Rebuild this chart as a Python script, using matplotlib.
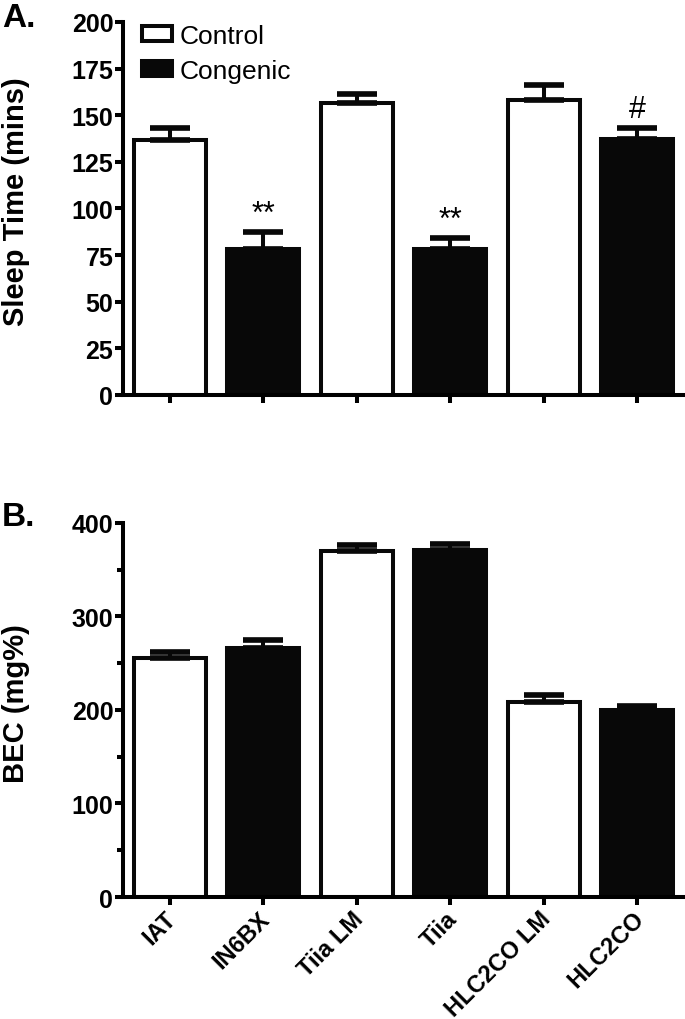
import matplotlib
matplotlib.use("Agg")
import matplotlib.pyplot as plt
import matplotlib.transforms as mtransforms
import numpy as np
from matplotlib.patches import Patch

plt.rcParams['font.family'] = ['Liberation Sans', 'DejaVu Sans']

strains = ["IAT", "IN6BX", "Tiia LM", "Tiia", "HLC2CO LM", "HLC2CO"]
group = ["Control", "Congenic", "Control", "Congenic", "Control", "Congenic"]
sleep_mean = [136.5, 78.5, 156.3, 78.5, 158.2, 137.4]
sleep_sem = [6.7, 8.7, 4.9, 5.5, 8.0, 5.7]
sleep_marks = ["", "**", "", "**", "", "#"]
bec_mean = [255.5, 265.8, 369.6, 371.3, 208.3, 200.0]
bec_sem = [7.0, 9.3, 7.2, 6.2, 8.2, 4.8]

LW = 2.9
INK = "#080808"
fig = plt.figure(figsize=(6.85, 10.2), dpi=100)
ax1 = fig.add_axes([0.1796, 0.6118, 0.8204, 0.3657])
ax2 = fig.add_axes([0.1796, 0.1196, 0.8204, 0.3667])

x = np.arange(len(strains))
colors = ["white" if g == "Control" else INK for g in group]

def draw(ax, means, sems):
    ax.bar(x, means, width=0.77, color=colors, edgecolor=INK,
           linewidth=LW, zorder=2)
    ax.errorbar(x, means, yerr=[np.zeros(len(sems)), sems], fmt="none",
                ecolor=INK, elinewidth=LW, capsize=14.4, capthick=LW * 1.4,
                zorder=3)
    ax.set_xlim(-0.5, 5.51)
    for s in ["top", "right"]:
        ax.spines[s].set_visible(False)
    for s in ["left", "bottom"]:
        ax.spines[s].set_linewidth(LW)
    ax.tick_params(axis="both", width=LW, length=6, direction="out",
                   labelsize=18, pad=1)
    ax.tick_params(axis="y", which="minor", width=LW, length=4)
    ax.set_xticks(x)

draw(ax1, sleep_mean, sleep_sem)
ax1.set_ylim(0, 200)
ax1.set_yticks(np.arange(0, 201, 25))
ax1.set_yticklabels([str(v) for v in range(0, 201, 25)], fontweight="bold")
ax1.set_xticklabels([])
ax1.set_ylabel("Sleep Time (mins)", fontsize=21, fontweight="bold")
ax1.yaxis.set_label_coords(-0.166, 0.52)
for xi, m, s, mk in zip(x, sleep_mean, sleep_sem, sleep_marks):
    if mk:
        ax1.text(xi, m + s + 2, mk, ha="center", va="bottom", fontsize=22)

handles = [Patch(facecolor="white", edgecolor=INK, linewidth=LW, label="Control"),
           Patch(facecolor=INK, edgecolor=INK, linewidth=LW, label="Congenic")]
ax1.legend(handles=handles, loc="upper left", bbox_to_anchor=(0.024, 1.008),
           frameon=False, fontsize=19, handlelength=1.15, handleheight=0.5,
           handletextpad=0.3, labelspacing=0.4, borderaxespad=0, borderpad=0.2)

draw(ax2, bec_mean, bec_sem)
ax2.set_ylim(0, 400)
ax2.set_yticks(np.arange(0, 401, 100))
ax2.set_yticklabels([str(v) for v in range(0, 401, 100)], fontweight="bold")
ax2.set_yticks(np.arange(50, 400, 100), minor=True)
ax2.set_xticklabels(strains, rotation=45, ha="right", rotation_mode="anchor",
                    fontsize=17, fontweight="bold")
offset = mtransforms.ScaledTranslation(-0.05, 0.0, fig.dpi_scale_trans)
for lab in ax2.get_xticklabels():
    lab.set_transform(lab.get_transform() + offset)
ax2.set_ylabel("BEC (mg%)", fontsize=21, fontweight="bold")
ax2.yaxis.set_label_coords(-0.166, 0.52)

fig.text(0.003, 0.997, "A.", fontsize=24, fontweight="bold", va="top", ha="left")
fig.text(0.003, 0.508, "B.", fontsize=24, fontweight="bold", va="top", ha="left")

fig.savefig("out.png", dpi=100)
